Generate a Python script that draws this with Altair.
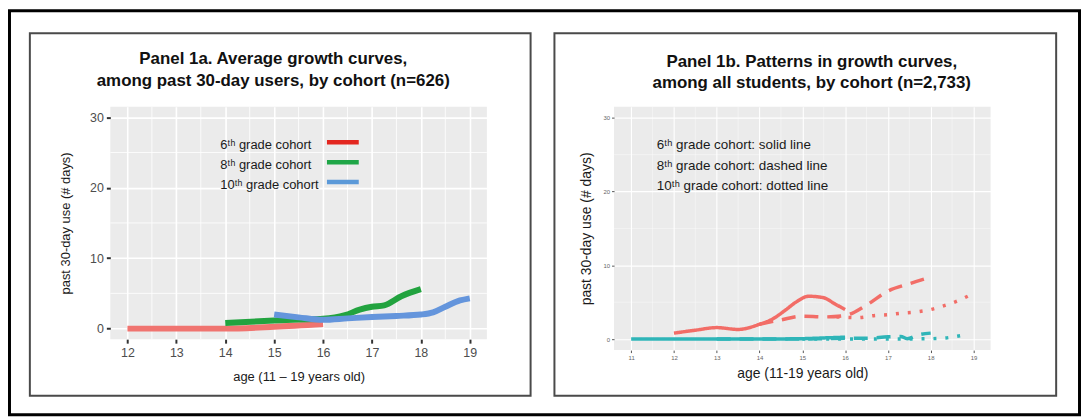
import altair as alt
import pandas as pd

# ---------------- Panel 1a data (average growth curves, users) ----------------
ages_6a = [12, 13, 14, 15, 16]
use_6a = [0.0, 0.0, 0.0, 0.25, 0.65]
ages_8a = [14, 15, 15.5, 16, 16.45, 16.75, 17, 17.25, 17.6, 18]
use_8a = [0.8, 1.15, 1.3, 1.4, 1.9, 2.7, 3.1, 3.3, 4.6, 5.6]
ages_10a = [15, 15.5, 16, 16.5, 17, 17.5, 18, 18.25, 18.5, 18.8, 19]
use_10a = [2.0, 1.6, 1.25, 1.45, 1.65, 1.8, 2.0, 2.3, 3.1, 4.0, 4.3]
cohorts_a = ["6th", "8th", "10th"]
line_colors_a = ["#f07470", "#22a33f", "#6495dc"]
legend_labels_a = ["6ᵗʰ grade cohort", "8ᵗʰ grade cohort", "10ᵗʰ grade cohort"]
legend_colors_a = ["#e3261f", "#1fa647", "#5b99d8"]
x_ticks_a = [12, 13, 14, 15, 16, 17, 18, 19]
x_minor_a = [12.5, 13.5, 14.5, 15.5, 16.5, 17.5, 18.5]
y_ticks = [0, 10, 20, 30]
y_minor = [5, 15, 25]

# ---------------- Panel 1b data (patterns, all students) ----------------
red_solid_age = [12, 12.5, 13, 13.5, 14, 14.3, 14.6, 14.85, 15.15, 15.5, 15.75, 16]
red_solid_use = [0.8, 1.2, 1.55, 1.3, 2.0, 2.7, 3.9, 5.0, 5.8, 5.6, 4.8, 4.0]
red_dash_age = [14, 14.5, 15, 15.5, 16, 16.5, 17, 17.5, 18]
red_dash_use = [2.0, 2.6, 3.1, 3.0, 3.2, 4.6, 6.5, 7.5, 8.4]
red_dot_age = [15.8, 16.3, 16.7, 17, 17.3, 17.7, 18, 18.3, 18.6, 18.9]
red_dot_use = [3.0, 2.9, 3.2, 3.3, 3.5, 3.7, 4.0, 4.5, 5.1, 5.9]
teal_solid_age = [11, 12, 13, 14, 15, 15.5, 16]
teal_solid_use = [0.0, 0.0, 0.0, 0.0, 0.05, 0.15, 0.25]
teal_dash_age = [13, 14, 15, 15.5, 16, 16.5, 17, 17.3, 17.45, 17.7, 18]
teal_dash_use = [0.0, 0.0, 0.0, 0.05, 0.1, 0.1, 0.3, 0.35, 0.05, 0.55, 0.8]
teal_dot_age = [15, 16, 17, 18, 18.35, 18.7]
teal_dot_use = [0.0, 0.0, 0.0, 0.05, 0.15, 0.45]
patterns_b = ["high", "low"]
pattern_colors_b = ["#f26d67", "#2fb5b8"]
cohorts_b = ["6th", "8th", "10th"]
note_labels_b = ["6ᵗʰ grade cohort: solid line",
                 "8ᵗʰ grade cohort: dashed line",
                 "10ᵗʰ grade cohort: dotted line"]
x_ticks_b = [11, 12, 13, 14, 15, 16, 17, 18, 19]
x_minor_b = [11.5, 12.5, 13.5, 14.5, 15.5, 16.5, 17.5, 18.5]

FONT = "Liberation Sans"

# ---------------- tables ----------------
df_a = pd.concat([
    pd.DataFrame({"age": ages_6a, "use": use_6a, "cohort": "6th"}),
    pd.DataFrame({"age": ages_8a, "use": use_8a, "cohort": "8th"}),
    pd.DataFrame({"age": ages_10a, "use": use_10a, "cohort": "10th"}),
], ignore_index=True)
df_a["order"] = range(len(df_a))

legend_a = pd.DataFrame({
    "label": legend_labels_a,
    "color": legend_colors_a,
    "age": [13.9] * 3,
    "lx": [16.08] * 3,
    "lx2": [16.73] * 3,
    "use": [26.0, 23.2, 20.4],
    "luse": [26.45, 23.6, 20.8],
})

parts_b = []
for pat, cohort, a, u in [
    ("low", "6th", teal_solid_age, teal_solid_use),
    ("low", "8th", teal_dash_age, teal_dash_use),
    ("low", "10th", teal_dot_age, teal_dot_use),
    ("high", "6th", red_solid_age, red_solid_use),
    ("high", "8th", red_dash_age, red_dash_use),
    ("high", "10th", red_dot_age, red_dot_use),
]:
    parts_b.append(pd.DataFrame({"age": a, "use": u, "pattern": pat, "cohort": cohort}))
df_b = pd.concat(parts_b, ignore_index=True)
df_b["series"] = df_b["pattern"] + "-" + df_b["cohort"]

notes_b = pd.DataFrame({"label": note_labels_b, "age": [11.6] * 3, "use": [26.3, 23.5, 20.8]})

one = pd.DataFrame({"k": [0]})

# ---------------- Panel 1a ----------------
W1, H1 = 379, 234
xs_a = alt.Scale(domain=[11.65, 19.35], nice=False, zero=False)
ys_a = alt.Scale(domain=[-1.5, 31.5], nice=False, zero=False)
ax_xa = alt.Axis(values=x_ticks_a, grid=True, gridColor="white", gridWidth=1.6,
                 domain=False, tickColor="#333333", tickWidth=2, tickSize=4,
                 labelColor="#4d4d4d", labelFont=FONT, labelFontSize=12.5, labelPadding=3,
                 title="age (11 – 19 years old)", titleFont=FONT, titleFontSize=13,
                 titleFontWeight="normal", titleColor="#1a1a1a", titlePadding=12)
ax_ya = alt.Axis(values=y_ticks, grid=True, gridColor="white", gridWidth=1.6,
                 domain=False, tickColor="#333333", tickWidth=2, tickSize=4,
                 labelColor="#4d4d4d", labelFont=FONT, labelFontSize=12.5, labelPadding=3,
                 title="past 30-day use (# days)", titleFont=FONT, titleFontSize=13,
                 titleFontWeight="normal", titleColor="#1a1a1a", titlePadding=17)


def xa(f="age"):
    return alt.X(f, type="quantitative", scale=xs_a, axis=ax_xa)


def ya(f="use"):
    return alt.Y(f, type="quantitative", scale=ys_a, axis=ax_ya)


minor_xa = alt.Chart(pd.DataFrame({"age": x_minor_a})).mark_rule(
    color="white", strokeWidth=0.8).encode(x=xa())
minor_ya = alt.Chart(pd.DataFrame({"use": y_minor})).mark_rule(
    color="white", strokeWidth=0.8).encode(y=ya())

lines_a = alt.Chart(df_a).mark_line(strokeWidth=6, strokeCap="butt", interpolate="monotone").encode(
    x=xa(), y=ya(),
    color=alt.Color("cohort:N", scale=alt.Scale(domain=cohorts_a, range=line_colors_a), legend=None),
    order="order:Q",
)

leg_lines = alt.Chart(legend_a).mark_rule(strokeWidth=4.5).encode(
    x=xa("lx"), x2="lx2", y=ya("luse"), color=alt.Color("color:N", scale=None))
leg_text = alt.Chart(legend_a).mark_text(
    align="left", baseline="middle", font=FONT, fontSize=13, color="#1a1a1a").encode(
    x=xa(), y=ya(), text="label:N")

outer_frame = alt.Chart(one).mark_rect(fillOpacity=0, stroke="black", strokeWidth=3).encode(
    x=alt.value(-101.5), x2=alt.value(975.5), y=alt.value(-96.5), y2=alt.value(310))
box_a = alt.Chart(one).mark_rect(fillOpacity=0, stroke="#4a4a4a", strokeWidth=2).encode(
    x=alt.value(-81), x2=alt.value(423), y=alt.value(-74), y2=alt.value(291))
title_a1 = alt.Chart(one).mark_text(
    text="Panel 1a. Average growth curves,", font=FONT, fontSize=17, fontWeight="bold",
    align="center", baseline="middle", color="#111111").encode(x=alt.value(164), y=alt.value(-48))
title_a2 = alt.Chart(one).mark_text(
    text="among past 30-day users, by cohort (n=626)", font=FONT, fontSize=17, fontWeight="bold",
    align="center", baseline="middle", color="#111111").encode(x=alt.value(164), y=alt.value(-26))

panel_a = alt.layer(minor_xa, minor_ya, lines_a, leg_lines, leg_text,
                    outer_frame, box_a, title_a1, title_a2).properties(width=W1, height=H1)

# ---------------- Panel 1b ----------------
W2, H2 = 379, 245
xs_b = alt.Scale(domain=[10.6, 19.4], nice=False, zero=False)
ys_b = alt.Scale(domain=[-1.5, 31.5], nice=False, zero=False)
ax_xb = alt.Axis(values=x_ticks_b, grid=True, gridColor="white", gridWidth=1.1,
                 domain=False, tickColor="#555555", tickWidth=1, tickSize=2.5,
                 labelColor="#666666", labelFont=FONT, labelFontSize=6, labelPadding=2,
                 title="age (11-19 years old)", titleFont=FONT, titleFontSize=14,
                 titleFontWeight="normal", titleColor="#1a1a1a", titlePadding=6)
ax_yb = alt.Axis(values=y_ticks, grid=True, gridColor="white", gridWidth=1.1,
                 domain=False, tickColor="#555555", tickWidth=1, tickSize=2.5,
                 labelColor="#666666", labelFont=FONT, labelFontSize=6, labelPadding=2,
                 title="past 30-day use (# days)", titleFont=FONT, titleFontSize=14,
                 titleFontWeight="normal", titleColor="#1a1a1a", titlePadding=10)


def xb(f="age"):
    return alt.X(f, type="quantitative", scale=xs_b, axis=ax_xb)


def yb(f="use"):
    return alt.Y(f, type="quantitative", scale=ys_b, axis=ax_yb)


minor_xb = alt.Chart(pd.DataFrame({"age": x_minor_b})).mark_rule(
    color="white", strokeWidth=0.5, opacity=0.8).encode(x=xb())
minor_yb = alt.Chart(pd.DataFrame({"use": y_minor})).mark_rule(
    color="white", strokeWidth=0.5, opacity=0.8).encode(y=yb())

lines_b = alt.Chart(df_b).mark_line(strokeWidth=3.5, strokeCap="butt", interpolate="monotone").encode(
    x=xb(), y=yb(),
    color=alt.Color("pattern:N", scale=alt.Scale(domain=patterns_b, range=pattern_colors_b), legend=None),
    strokeDash=alt.StrokeDash("cohort:N", scale=alt.Scale(domain=cohorts_b, range=[[1, 0], [14, 9], [3, 9]]),
                              legend=None),
    detail="series:N",
)

notes = alt.Chart(notes_b).mark_text(
    align="left", baseline="middle", font=FONT, fontSize=13.5, color="#1a1a1a").encode(
    x=xb(), y=yb(), text="label:N")

box_b = alt.Chart(one).mark_rect(fillOpacity=0, stroke="#4a4a4a", strokeWidth=2).encode(
    x=alt.value(-60), x2=alt.value(445), y=alt.value(-74), y2=alt.value(291))
title_b1 = alt.Chart(one).mark_text(
    text="Panel 1b. Patterns in growth curves,", font=FONT, fontSize=17, fontWeight="bold",
    align="center", baseline="middle", color="#111111").encode(x=alt.value(199), y=alt.value(-45))
title_b2 = alt.Chart(one).mark_text(
    text="among all students, by cohort (n=2,733)", font=FONT, fontSize=17, fontWeight="bold",
    align="center", baseline="middle", color="#111111").encode(x=alt.value(199), y=alt.value(-24))

panel_b = alt.layer(minor_xb, minor_yb, lines_b, notes, box_b, title_b1, title_b2).properties(
    width=W2, height=H2)

chart = alt.hconcat(panel_a, panel_b, spacing=128, bounds="flush").resolve_scale(
    x="independent", y="independent", color="independent", strokeDash="independent"
).properties(padding=0, background="white").configure_view(fill="#ebebeb", strokeWidth=0)

chart.save("out.html", embed_options={"renderer": "svg", "actions": False})
